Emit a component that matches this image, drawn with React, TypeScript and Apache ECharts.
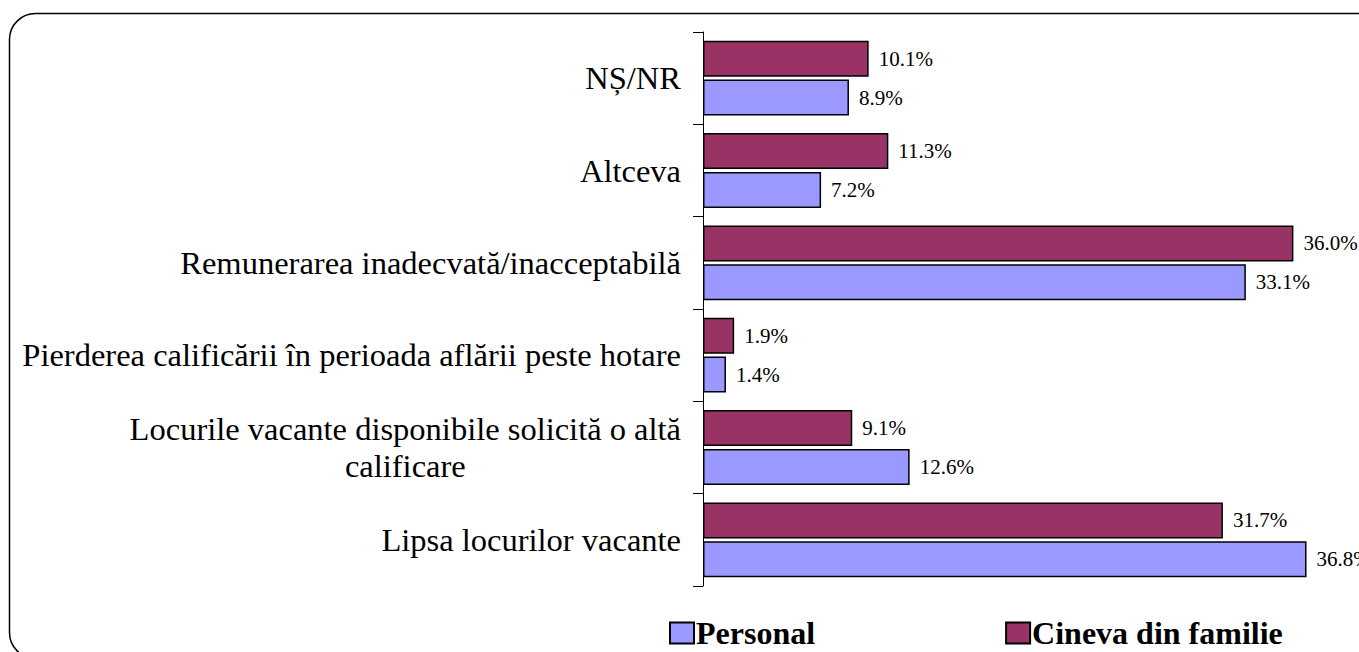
import React, { useEffect, useRef } from "react";
import * as echarts from "echarts";

const categories = [
  "Lipsa locurilor vacante",
  "Locurile vacante disponibile solicită o altă\ncalificare",
  "Pierderea calificării în perioada aflării peste hotare",
  "Remunerarea inadecvată/inacceptabilă",
  "Altceva",
  "NȘ/NR",
];
const personal = [36.8, 12.6, 1.4, 33.1, 7.2, 8.9];
const familie = [31.7, 9.1, 1.9, 36.0, 11.3, 10.1];
const seriesNames = ["Personal", "Cineva din familie"];

const FONT = "Liberation Serif";

export default function App() {
  const ref = useRef<HTMLDivElement>(null);
  useEffect(() => {
    if (!ref.current) return;
    const chart = echarts.init(ref.current, null, { renderer: "svg" });
    const valueLabel = {
      show: true,
      position: "right",
      distance: 10,
      color: "#000",
      fontFamily: FONT,
      fontSize: 21,
      formatter: (p: any) => Number(p.value).toFixed(1) + "%",
    };
    chart.setOption({
      animation: false,
      backgroundColor: "#fff",
      textStyle: { fontFamily: FONT },
      graphic: [
        {
          type: "rect",
          z: -10,
          shape: { x: 9.5, y: 13.5, width: 1500, height: 645, r: 26 },
          style: { fill: "none", stroke: "#000", lineWidth: 1.5 },
        },
      ],
      legend: {
        data: seriesNames,
        left: 664,
        top: 612,
        icon: "rect",
        itemWidth: 24,
        itemHeight: 21,
        itemGap: 190,
        textStyle: {
          fontFamily: FONT,
          fontSize: 32,
          fontWeight: "bold",
          color: "#000",
          padding: [0, 0, 0, -3],
        },
      },
      grid: { left: 703, right: -4, top: 32, bottom: 66, containLabel: false },
      xAxis: {
        type: "value",
        min: 0,
        max: 40,
        show: false,
      },
      yAxis: {
        type: "category",
        data: categories,
        axisLine: { show: true, lineStyle: { color: "#000", width: 1 } },
        axisTick: { show: true, length: 10, lineStyle: { color: "#000" } },
        axisLabel: {
          margin: 22,
          color: "#000",
          fontFamily: FONT,
          fontSize: 32.5,
          lineHeight: 37,
          formatter: (v: string) =>
            v
              .split("\n")
              .map((l) => "{c|" + l + "}")
              .join("\n"),
          rich: {
            c: {
              align: "center",
              color: "#000",
              fontFamily: FONT,
              fontSize: 32.5,
              lineHeight: 37,
            },
          },
        },
      },
      series: [
        {
          name: seriesNames[1],
          type: "bar",
          data: familie,
          barWidth: 36,
          barGap: "8%",
          itemStyle: { color: "#993366", borderColor: "#000", borderWidth: 1.5 },
          label: valueLabel,
        },
        {
          name: seriesNames[0],
          type: "bar",
          data: personal,
          barWidth: 36,
          barGap: "8%",
          itemStyle: { color: "#9999FF", borderColor: "#000", borderWidth: 1.5 },
          label: valueLabel,
        },
      ],
    });
    return () => chart.dispose();
  }, []);
  return (
    <div
      ref={ref}
      style={{ position: "absolute", left: 0, top: 0, width: 1359, height: 652 }}
    />
  );
}
